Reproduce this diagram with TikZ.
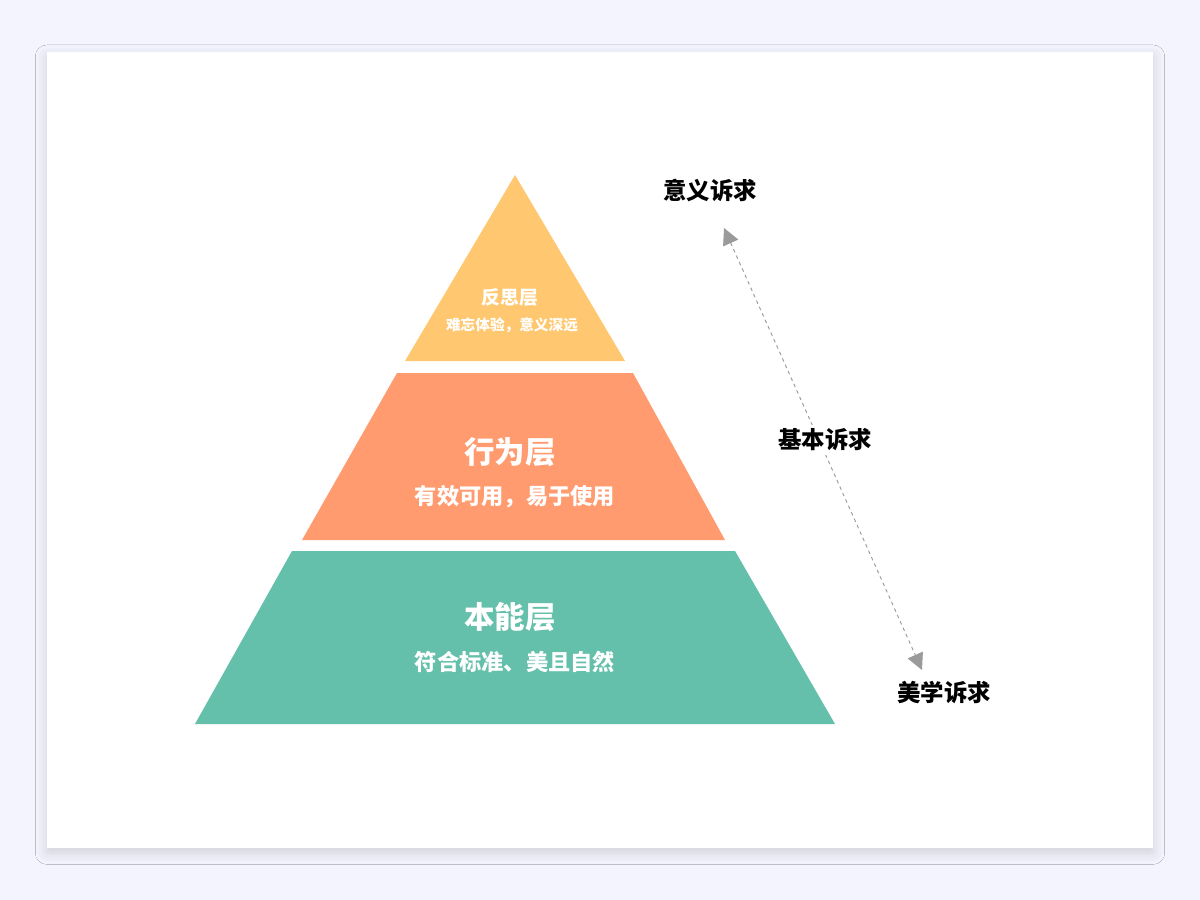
\documentclass[tikz,border=0pt]{standalone}
\usepackage{fontspec}
\setmainfont{Noto Sans CJK SC}
\usetikzlibrary{arrows.meta,shadows.blur}
\definecolor{bg}{HTML}{F3F4FD}
\definecolor{ylw}{HTML}{FFC870}
\definecolor{org}{HTML}{FF9B6E}
\definecolor{grn}{HTML}{64BFAB}
\definecolor{arr}{HTML}{9A9A9A}
\tikzset{
 lbl/.style={font=\bfseries\fontsize{20}{22}\selectfont, text=black, fill=white, inner sep=3pt},
 ttl/.style={font=\bfseries\fontsize{26}{28}\selectfont, text=white},
 sub/.style={font=\bfseries\fontsize{19}{21}\selectfont, text=white},
}
\begin{document}
\begin{tikzpicture}[x=0.03cm,y=-0.03cm]
\fill[bg] (0,0) rectangle (1200,900);
\useasboundingbox (0,0) rectangle (1200,900);
\fill[white, blur shadow={shadow xshift=0pt,shadow yshift=-4pt,shadow blur radius=10pt,shadow opacity=15}] (47,52) rectangle (1153,848);
\fill[ylw] (515,175) -- (625,361) -- (405,361) -- cycle;
\fill[org] (397,373) -- (633,373) -- (725,540) -- (302,540) -- cycle;
\fill[grn] (292,551) -- (735,551) -- (835,724) -- (195,724) -- cycle;
\node[font=\bfseries\fontsize{16}{18}\selectfont,text=white] (t1) at (510,298) {反思层};
\node[font=\bfseries\fontsize{12.5}{14}\selectfont,text=white] (s1) at (512,325) {难忘体验，意义深远};
\node[ttl] (t2) at (510,452) {行为层};
\node[sub] (s2) at (515,497) {有效可用，易于使用};
\node[ttl] (t3) at (510,617) {本能层};
\node[sub] (s3) at (515,662) {符合标准、美且自然};
\node[lbl] (top) at (710,190) {意义诉求};
\node[lbl] (bot) at (944,692) {美学诉求};
\coordinate (a) at (724,228);
\coordinate (b) at (922,670);
\draw[arr, dashed, line width=0.8pt, {Triangle[length=14pt,width=14pt]}-{Triangle[length=14pt,width=14pt]}] (a) -- (b);
\node[lbl] (mid) at (825,440) {基本诉求};
\end{tikzpicture}
\end{document}
